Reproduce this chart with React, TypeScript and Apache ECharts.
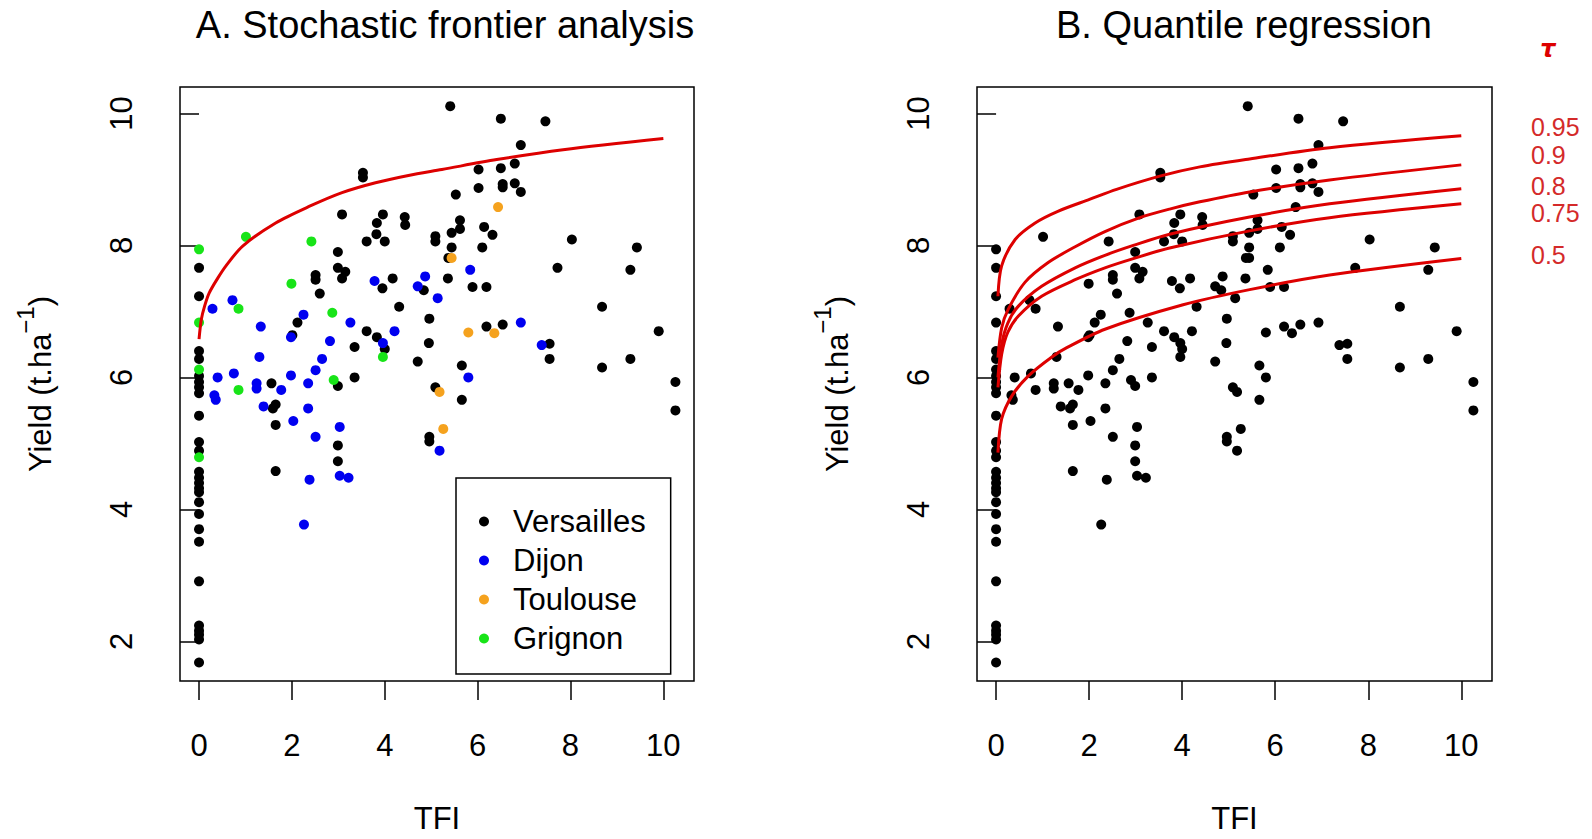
import React, { useEffect, useRef } from 'react';
import * as echarts from 'echarts';

// ---------- data (TFI, yield t/ha) ----------
const versailles: number[][] = [
  [0, 7.66], [0, 7.23], [0, 6.4], [0, 6.28], [0, 6.02], [0, 5.93], [0, 5.85], [0, 5.76], [0, 5.42], [0, 5.02],
  [0, 4.89], [0, 4.57], [0, 4.48], [0, 4.4], [0, 4.32], [0, 4.26], [0, 4.11], [0, 3.93], [0, 3.7], [0, 3.51],
  [0, 2.91], [0, 2.24], [0, 2.16], [0, 2.1], [0, 2.03], [0, 1.68],
  [1.56, 5.91], [1.59, 5.53], [1.65, 5.59], [1.65, 5.28], [1.65, 4.58],
  [2.01, 6.64], [2.12, 6.83], [2.51, 7.55], [2.51, 7.48], [2.6, 7.27],
  [2.99, 7.9], [2.99, 7.66], [3.15, 7.6], [3.08, 7.5], [3.08, 8.47], [2.99, 5.87], [2.99, 4.97], [2.99, 4.73],
  [3.35, 6.46], [3.35, 6.0], [3.53, 9.1], [3.53, 9.03], [3.61, 8.06], [3.61, 6.7], [3.82, 8.17], [3.83, 8.34],
  [3.83, 6.61], [3.95, 7.35], [3.96, 8.47], [4.0, 8.06], [4.0, 6.43], [4.17, 7.5], [4.31, 7.07], [4.43, 8.43],
  [4.44, 8.31], [4.71, 6.24], [4.84, 7.32], [4.95, 6.52], [4.96, 6.89], [4.96, 5.1], [4.96, 5.03],
  [5.09, 8.14], [5.09, 8.06], [5.09, 5.85], [5.36, 7.5], [5.37, 7.81], [5.41, 10.11], [5.44, 8.19], [5.44, 7.97],
  [5.53, 8.77], [5.62, 8.38], [5.62, 8.25], [5.66, 6.18], [5.66, 5.66], [5.89, 7.37],
  [6.02, 9.15], [6.02, 8.87], [6.1, 7.97], [6.14, 8.28], [6.19, 7.37], [6.19, 6.77], [6.32, 8.16], [6.5, 9.92],
  [6.5, 9.17], [6.54, 8.93], [6.54, 8.88], [6.54, 6.8], [6.8, 9.24], [6.8, 8.94], [6.93, 9.52], [6.93, 8.81],
  [7.46, 9.88], [7.55, 6.51], [7.55, 6.28], [7.72, 7.66], [8.03, 8.09], [8.68, 7.07], [8.68, 6.15], [9.29, 7.63],
  [9.29, 6.28], [9.43, 7.97], [9.9, 6.7], [10.26, 5.93], [10.26, 5.5],
];
const dijon: number[][] = [
  [0.29, 7.04], [0.33, 5.73], [0.36, 5.66], [0.4, 6.0], [0.72, 7.17], [0.75, 6.06], [1.24, 5.91], [1.24, 5.83],
  [1.3, 6.31], [1.33, 6.77], [1.39, 5.56], [1.77, 5.81], [1.98, 6.61], [1.98, 6.03], [2.03, 5.34], [2.25, 6.95],
  [2.26, 3.77], [2.35, 5.91], [2.35, 5.53], [2.38, 4.45], [2.51, 6.11], [2.51, 5.1], [2.65, 6.28], [2.82, 6.55],
  [3.03, 5.25], [3.03, 4.51], [3.22, 4.48], [3.26, 6.83], [3.78, 7.46], [3.96, 6.52], [4.21, 6.7], [4.71, 7.38],
  [4.87, 7.53], [5.14, 7.2], [5.18, 4.89], [5.8, 6.0], [5.84, 7.63], [6.93, 6.83], [7.38, 6.49],
];
const toulouse: number[][] = [[5.18, 5.78], [5.26, 5.22], [5.44, 7.81], [5.8, 6.68], [6.36, 6.67], [6.44, 8.58]];
const grignon: number[][] = [
  [0, 7.94], [0, 6.83], [0, 6.12], [0, 4.79], [0.85, 7.04], [0.85, 5.81], [1.01, 8.13], [1.99, 7.42],
  [2.42, 8.06], [2.87, 6.98], [2.9, 5.96], [3.96, 6.31],
];

// stochastic frontier curve
const frontier: number[][] = [
  [0, 6.58], [0.05, 6.88], [0.12, 7.08], [0.22, 7.28], [0.4, 7.5], [0.58, 7.69], [0.94, 7.99], [1.65, 8.34],
  [2.37, 8.59], [3.08, 8.8], [3.8, 8.95], [4.51, 9.06], [5.23, 9.15], [6.41, 9.3], [7.84, 9.45], [10, 9.62],
];
// quantile regression curves
const q95: number[][] = [
  [0.04, 7.23], [0.12, 7.69], [0.41, 8.09], [0.84, 8.34], [1.34, 8.52], [2.02, 8.7], [2.59, 8.85], [3.52, 9.05],
  [4.38, 9.19], [5.45, 9.31], [7.17, 9.48], [10, 9.66],
];
const q90: number[][] = [
  [0.04, 6.3], [0.12, 6.75], [0.26, 7.03], [0.62, 7.44], [1.12, 7.74], [1.7, 7.98], [2.34, 8.21], [3.09, 8.42],
  [3.73, 8.55], [4.38, 8.66], [5.45, 8.81], [7.17, 8.99], [10, 9.22],
];
const q80: number[][] = [
  [0.04, 6.0], [0.12, 6.5], [0.25, 6.82], [0.48, 7.08], [0.98, 7.38], [1.7, 7.66], [2.34, 7.85], [2.95, 8.0],
  [3.73, 8.17], [5.45, 8.43], [7.17, 8.63], [10, 8.86],
];
const q75: number[][] = [
  [0.04, 5.85], [0.12, 6.35], [0.25, 6.68], [0.48, 6.93], [0.98, 7.23], [1.7, 7.48], [2.34, 7.66], [2.95, 7.8],
  [3.73, 7.96], [5.45, 8.22], [7.17, 8.42], [10, 8.63],
];
const q50: number[][] = [
  [0.04, 4.86], [0.12, 5.37], [0.34, 5.72], [0.69, 6.02], [1.2, 6.31], [1.52, 6.45], [2.34, 6.73], [4.02, 7.1],
  [5.45, 7.33], [7.17, 7.55], [10, 7.8],
];
const tauLabels = ['0.95', '0.9', '0.8', '0.75', '0.5'];
const xTicks = [0, 2, 4, 6, 8, 10];
const yTicks = [2, 4, 6, 8, 10];
const siteNames = ['Versailles', 'Dijon', 'Toulouse', 'Grignon'];
const siteColors = ['#000000', '#0000f0', '#f5a21e', '#18e418'];

// ---------- layout / style ----------
const FONT = '"Liberation Sans", Arial, Helvetica, sans-serif';
const RED = '#dd0000';
const LABEL_RED = '#d42a2a';
const tauLabelY = [127, 155, 186, 213, 255];

function makeXAxis(gridIndex: number) {
  return {
    type: 'value', gridIndex, min: -0.41, max: 10.66,
    axisLine: { show: false },
    splitLine: { show: false },
    axisTick: { show: true, customValues: xTicks, length: 19, lineStyle: { color: '#000', width: 1.5 } },
    axisLabel: { customValues: xTicks, fontSize: 31, fontFamily: FONT, color: '#000', margin: 49 },
    name: 'TFI', nameLocation: 'middle', nameGap: 122,
    nameTextStyle: { fontSize: 31, fontFamily: FONT, color: '#000' },
  };
}
function makeYAxis(gridIndex: number) {
  return {
    type: 'value', gridIndex, min: 1.4, max: 10.4,
    axisLine: { show: false },
    splitLine: { show: false },
    axisTick: { show: true, customValues: yTicks, length: 19, lineStyle: { color: '#000', width: 1.5 } },
    axisLabel: { customValues: yTicks, fontSize: 31, fontFamily: FONT, color: '#000', margin: 43, rotate: 90 },
    name: 'Yield (t.ha{sup|\u22121})', nameLocation: 'middle', nameGap: 113, nameRotate: 90,
    nameTextStyle: {
      fontSize: 31, fontFamily: FONT, color: '#000', lineHeight: 54,
      rich: { sup: { fontSize: 24, fontFamily: FONT, color: '#000', lineHeight: 24, verticalAlign: 'top' } },
    },
  };
}

function lineSeries(name: string, data: number[][], idx: number) {
  return {
    type: 'line', name, data, xAxisIndex: idx, yAxisIndex: idx, symbol: 'none',
    smooth: 0.3, z: 5, silent: true,
    lineStyle: { color: RED, width: 3 },
  };
}

const siteData = [versailles, dijon, toulouse, grignon];
const allFields = ([] as number[][]).concat(...siteData);

const option: any = {
  animation: false,
  backgroundColor: '#ffffff',
  title: [
    { text: 'A. Stochastic frontier analysis', left: 440, top: 1, textAlign: 'center',
      textStyle: { fontSize: 38, fontWeight: 'normal', fontFamily: FONT, color: '#000' } },
    { text: 'B. Quantile regression', left: 1239, top: 1, textAlign: 'center',
      textStyle: { fontSize: 38, fontWeight: 'normal', fontFamily: FONT, color: '#000' } },
  ],
  grid: [
    { left: 180, top: 87, width: 514, height: 595, show: true, borderColor: '#000', borderWidth: 1.5, backgroundColor: 'transparent' },
    { left: 977, top: 87, width: 515, height: 595, show: true, borderColor: '#000', borderWidth: 1.5, backgroundColor: 'transparent' },
  ],
  xAxis: [makeXAxis(0), makeXAxis(1)],
  yAxis: [makeYAxis(0), makeYAxis(1)],
  legend: {
    data: siteNames, orient: 'vertical', left: 456, top: 478, selectedMode: false,
    icon: 'circle', itemWidth: 10, itemHeight: 10, itemGap: 8,
    padding: [28, 25, 20, 23], borderColor: '#000', borderWidth: 1.5, backgroundColor: '#fff',
    textStyle: { fontSize: 31, fontFamily: FONT, color: '#000', padding: [0, 0, 0, 19] },
  },
  series: [
    ...siteNames.map((n, i) => ({
      type: 'scatter', name: n, data: siteData[i], xAxisIndex: 0, yAxisIndex: 0,
      symbol: 'circle', symbolSize: 10, itemStyle: { color: siteColors[i], opacity: 1 }, z: 3,
    })),
    lineSeries('Frontier', frontier, 0),
    {
      type: 'scatter', name: 'All fields', data: allFields, xAxisIndex: 1, yAxisIndex: 1,
      symbol: 'circle', symbolSize: 10, itemStyle: { color: '#000', opacity: 1 }, z: 3,
    },
    lineSeries('0.95', q95, 1),
    lineSeries('0.9', q90, 1),
    lineSeries('0.8', q80, 1),
    lineSeries('0.75', q75, 1),
    lineSeries('0.5', q50, 1),
  ],
  graphic: [
    { type: 'text', x: 1548, y: 49, style: { text: '\u03c4', fill: RED, fontSize: 24, fontStyle: 'italic', fontWeight: 'bold', fontFamily: '"DejaVu Sans", sans-serif', align: 'center', verticalAlign: 'middle' } },
    ...tauLabels.map((t, i) => ({
      type: 'text', x: 1531, y: tauLabelY[i],
      style: { text: t, fill: LABEL_RED, fontSize: 25, fontFamily: FONT, align: 'left', verticalAlign: 'middle' },
    })),
  ],
};

export default function App() {
  const ref = useRef<HTMLDivElement>(null);
  useEffect(() => {
    const chart = echarts.init(ref.current as HTMLDivElement, null, { renderer: 'svg' });
    chart.setOption(option);
    return () => chart.dispose();
  }, []);
  return <div ref={ref} style={{ position: 'absolute', left: 0, top: 0, width: 1592, height: 839, background: '#fff' }} />;
}
